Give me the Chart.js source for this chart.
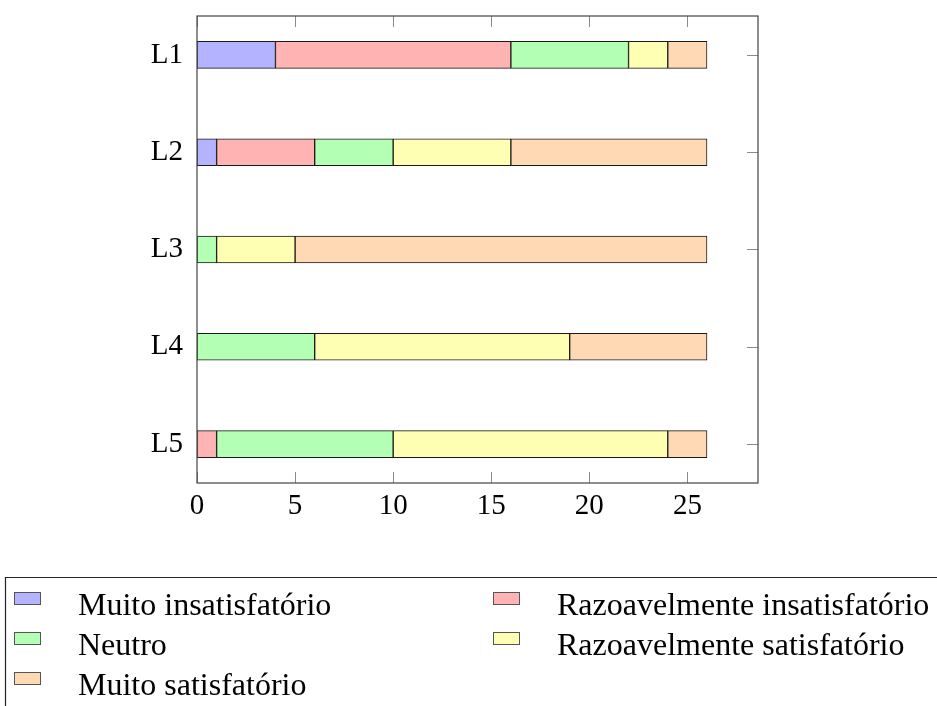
<!DOCTYPE html>
<html>
<head>
<meta charset="utf-8">
<script src="https://cdn.jsdelivr.net/npm/chart.js@4/dist/chart.umd.min.js"></script>
<style>
html,body{margin:0;padding:0;background:#fff;}
#wrap{position:relative;width:937px;height:706px;}
</style>
</head>
<body>
<div id="wrap"><canvas id="c" width="937" height="706"></canvas></div>
<script>
const categories = ["L1", "L2", "L3", "L4", "L5"];
const seriesNames = ["Muito insatisfatório", "Razoavelmente insatisfatório", "Neutro", "Razoavelmente satisfatório", "Muito satisfatório"];
const muitoInsatisfatorio = [4, 1, 0, 0, 0];
const razoavelmenteInsatisfatorio = [12, 5, 0, 0, 1];
const neutro = [6, 4, 1, 6, 9];
const razoavelmenteSatisfatorio = [2, 6, 4, 13, 14];
const muitoSatisfatorio = [2, 10, 21, 7, 2];
const xTicks = [0, 5, 10, 15, 20, 25];
const colors = ["#b3b3ff", "#ffb3b3", "#b3ffb3", "#ffffb3", "#ffd9b3"];

const seriesValues = [muitoInsatisfatorio, razoavelmenteInsatisfatorio, neutro, razoavelmenteSatisfatorio, muitoSatisfatorio];
const FONT = "'Liberation Serif', 'Times New Roman', serif";

const datasets = seriesValues.map((vals, k) => ({
  label: seriesNames[k],
  data: vals.map((v, i) => ({x: v, y: i})),
  backgroundColor: colors[k],
  borderColor: "#1a1a1a",
  borderWidth: 1,
  borderSkipped: false,
  barThickness: 27
}));

const decor = {
  id: 'decor',
  beforeDatasetsDraw(chart) {
    const ctx = chart.ctx, a = chart.chartArea;
    const xs = chart.scales.x, ys = chart.scales.y;
    ctx.save();
    ctx.strokeStyle = "#8a8a8a";
    ctx.lineWidth = 1;
    xTicks.forEach(v => {
      const px = Math.round(xs.getPixelForValue(v)) + 0.5;
      ctx.beginPath();
      ctx.moveTo(px, a.bottom); ctx.lineTo(px, a.bottom - 11);
      ctx.moveTo(px, a.top); ctx.lineTo(px, a.top + 11);
      ctx.stroke();
    });
    categories.forEach((c, i) => {
      const py = Math.round(ys.getPixelForValue(i)) + 0.5;
      ctx.beginPath();
      ctx.moveTo(a.left, py); ctx.lineTo(a.left + 11, py);
      ctx.moveTo(a.right, py); ctx.lineTo(a.right - 11, py);
      ctx.stroke();
    });
    ctx.restore();
  },
  afterDatasetsDraw(chart) {
    const ctx = chart.ctx, a = chart.chartArea;
    ctx.save();
    ctx.strokeStyle = "#444";
    ctx.lineWidth = 1.2;
    ctx.strokeRect(a.left, a.top, a.right - a.left, a.bottom - a.top);
    ctx.restore();
  },
  afterDraw(chart) {
    const ctx = chart.ctx;
    ctx.save();
    ctx.strokeStyle = "#222";
    ctx.lineWidth = 1.2;
    ctx.beginPath();
    ctx.moveTo(5.5, 720); ctx.lineTo(5.5, 577.5); ctx.lineTo(950, 577.5);
    ctx.stroke();
    const colX = [14, 493];
    const textX = [78, 557];
    const rowBase = [615, 655, 695];
    ctx.font = "32px " + FONT;
    ctx.textBaseline = "alphabetic";
    seriesNames.forEach((name, k) => {
      const col = k % 2, row = Math.floor(k / 2);
      const bx = colX[col], by = rowBase[row] - 23;
      ctx.fillStyle = colors[k];
      ctx.fillRect(bx, by, 26, 12);
      ctx.strokeStyle = "#555";
      ctx.lineWidth = 1;
      ctx.strokeRect(bx + 0.5, by + 0.5, 26, 12);
      ctx.fillStyle = "#000";
      ctx.fillText(name, textX[col], rowBase[row]);
    });
    ctx.restore();
  }
};

new Chart(document.getElementById('c'), {
  type: 'bar',
  data: { datasets },
  options: {
    indexAxis: 'y',
    responsive: false,
    animation: false,
    events: [],
    layout: { padding: { left: 0, top: 16, right: 179, bottom: 0 } },
    plugins: { legend: { display: false }, tooltip: { enabled: false } },
    scales: {
      x: {
        type: 'linear',
        stacked: true,
        min: 0,
        max: 28.6,
        offset: false,
        grid: { display: false, drawTicks: false },
        border: { display: false },
        afterBuildTicks(s) { s.ticks = xTicks.map(v => ({value: v})); },
        afterFit(s) { s.height = 223; s.paddingLeft = 0; s.paddingRight = 0; },
        ticks: { color: "#000", font: { family: FONT, size: 29 }, padding: 6, maxRotation: 0, autoSkip: false }
      },
      y: {
        type: 'linear',
        stacked: true,
        reverse: true,
        min: -0.4,
        max: 4.4,
        offset: false,
        grid: { display: false, drawTicks: false },
        border: { display: false },
        afterBuildTicks(s) { s.ticks = categories.map((c, i) => ({value: i})); },
        afterFit(s) { s.width = 197; s.paddingTop = 0; s.paddingBottom = 0; },
        ticks: { color: "#000", font: { family: FONT, size: 29 }, padding: 14, autoSkip: false,
                 callback: (v) => categories[v] }
      }
    }
  },
  plugins: [decor]
});
</script>
</body>
</html>
